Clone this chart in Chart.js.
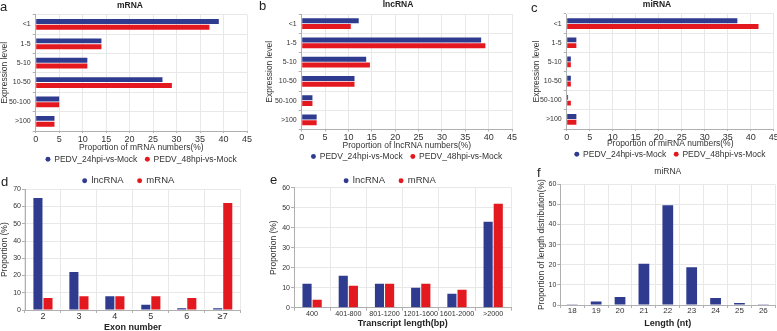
<!DOCTYPE html>
<html><head><meta charset="utf-8">
<script src="https://cdn.jsdelivr.net/npm/chart.js@4.4.0/dist/chart.umd.min.js"></script>
<style>
html,body{margin:0;padding:0;background:#fff;overflow:hidden;width:777px;height:331px;position:relative;}
canvas{position:absolute;}
.lab{position:absolute;font-family:"Liberation Sans",Arial,sans-serif;font-size:13px;color:#222;line-height:13px;}
</style></head><body>
<canvas id="ca" width="260" height="165" style="left:0px;top:0px;width:260px;height:165px"></canvas>
<canvas id="cb" width="266" height="165" style="left:265px;top:0px;width:266px;height:165px"></canvas>
<canvas id="cc" width="252" height="165" style="left:531px;top:0px;width:252px;height:165px"></canvas>
<canvas id="cd" width="258" height="171" style="left:0px;top:160px;width:258px;height:171px"></canvas>
<canvas id="ce" width="244" height="171" style="left:268px;top:160px;width:244px;height:171px"></canvas>
<canvas id="cf" width="240" height="171" style="left:537px;top:160px;width:240px;height:171px"></canvas>
<div class="lab" style="left:0px;top:0px">a</div>
<div class="lab" style="left:259px;top:-1px">b</div>
<div class="lab" style="left:531px;top:1px">c</div>
<div class="lab" style="left:1px;top:175px">d</div>
<div class="lab" style="left:270px;top:173px">e</div>
<div class="lab" style="left:537px;top:166px">f</div>
<script>
// ---- data ----
const levelCats = ['<1', '1-5', '5-10', '10-50', '50-100', '>100'];
const series24 = 'PEDV_24hpi-vs-Mock';
const series48 = 'PEDV_48hpi-vs-Mock';
const mrna24 = [39, 14, 11, 27, 5, 4];
const mrna48 = [37, 14, 11, 29, 5, 4];
const lnc24 = [12.2, 38.4, 13.8, 11.3, 2.3, 3.2];
const lnc48 = [10.5, 39.3, 14.6, 11.3, 2.3, 3.2];
const mir24 = [37.1, 2.1, 0.9, 0.9, 0.3, 2.1];
const mir48 = [41.7, 2.1, 0.9, 0.9, 0.9, 2.1];
const exonCats = ['2', '3', '4', '5', '6', '\u22657'];
const exonLnc = [65, 22, 8, 3, 1, 1];
const exonMrna = [7, 8, 8, 8, 7, 62];
const lenCats = ['400', '401-800', '801-1200', '1201-1600', '1601-2000', '>2000'];
const lenLnc = [12, 16, 12, 10, 7, 43];
const lenMrna = [4, 11, 12, 12, 9, 52];
const ntCats = ['18', '19', '20', '21', '22', '23', '24', '25', '26'];
const ntProp = [0.4, 1.7, 4, 20.5, 49.6, 18.8, 3.5, 1, 0.1];

// ---- style ----
const FONT = '"Liberation Sans", Arial, sans-serif';
Chart.defaults.font.family = FONT;
Chart.defaults.color = '#333';
const BLUE = '#2e3b8e', RED = '#e3191f';
const GRID = '#e8e8e8', AXIS = '#b0b0b0';
const fixW = w => s => { s.width = w; };
const fixH = h => s => { s.height = h; };
// invisible right-hand spacer scale (keeps the plot narrower than the title/legend box)
const spacer = w => ({ type: 'linear', position: 'right', display: true,
  grid: { display: false, drawTicks: false }, ticks: { display: false }, border: { display: false }, afterFit: fixW(w) });

function hbar(id, g, title, xTitle, d24, d48) {
  new Chart(document.getElementById(id), {
    type: 'bar',
    data: {
      labels: levelCats,
      datasets: [
        { label: series24, data: d24, backgroundColor: BLUE, categoryPercentage: 0.6, barPercentage: 0.85 },
        { label: series48, data: d48, backgroundColor: RED, categoryPercentage: 0.6, barPercentage: 0.85 }
      ]
    },
    options: {
      indexAxis: 'y', responsive: false, animation: false, devicePixelRatio: 1,
      layout: { padding: { left: g.pl, right: g.pr, top: 0, bottom: 0 } },
      plugins: {
        title: { display: true, text: title, color: '#222', font: { size: 8.5, weight: 'bold' }, padding: { top: g.tt, bottom: g.tb } },
        legend: { position: 'bottom', fullSize: false, maxHeight: g.lh,
          labels: { usePointStyle: true, pointStyle: 'circle', boxWidth: 4, boxHeight: 3.5, padding: 8, font: { size: 8.5 }, color: '#333' } },
        tooltip: { enabled: false }
      },
      scales: {
        x: { min: 0, max: 45, ticks: { stepSize: 5, font: { size: 9 }, padding: 1, color: '#333' },
             grid: { color: GRID, tickLength: 2, tickColor: AXIS }, border: { color: AXIS },
             title: { display: true, text: xTitle, font: { size: 8.5 }, color: '#333', padding: { top: 0, bottom: g.xtb } },
             afterFit: fixH(g.xh) },
        y: { ticks: { font: { size: 7 }, padding: 2, color: '#333' },
             grid: { color: GRID, tickLength: 3, tickColor: AXIS, offset: true }, border: { color: AXIS },
             title: { display: true, text: 'Expression level', font: { size: 8.5 }, color: '#333', padding: 0 },
             afterFit: fixW(g.yw) },
        yr: spacer(g.dw)
      }
    }
  });
}

function vbar(id, g, cats, sets, yMax, xTitle, yTitle, catFont, title) {
  const scales = {
    x: { ticks: { font: { size: catFont }, padding: g.tp, color: '#333', maxRotation: 0, minRotation: 0, autoSkip: false },
         grid: { color: GRID, tickLength: 3, tickColor: AXIS, offset: true }, border: { color: AXIS },
         title: { display: true, text: xTitle, font: { size: 9, weight: 'bold' }, color: '#222', padding: { top: 0, bottom: g.xtb } },
         afterFit: fixH(g.xh) },
    y: { min: 0, max: yMax, ticks: { stepSize: 10, font: { size: 7 }, padding: 1, color: '#333' },
         grid: { color: GRID, tickLength: 3, tickColor: AXIS }, border: { color: AXIS },
         title: { display: true, text: yTitle, font: { size: 8.5 }, color: '#333', padding: 0 },
         afterFit: fixW(g.yw) }
  };
  if (g.dw) scales.yr = spacer(g.dw);
  new Chart(document.getElementById(id), {
    type: 'bar',
    data: { labels: cats, datasets: sets },
    options: {
      responsive: false, animation: false, devicePixelRatio: 1,
      layout: { padding: { left: g.pl, right: g.pr, top: g.pt, bottom: 0 } },
      plugins: {
        title: title ? { display: true, text: title, fullSize: false, color: '#333', font: { size: 8.5, weight: 'normal' }, padding: { top: g.tt, bottom: g.tb } } : { display: false },
        legend: sets.length > 1 ? { position: 'top', maxHeight: g.lh,
          labels: { usePointStyle: true, pointStyle: 'circle', boxWidth: 4, boxHeight: 3.5, padding: 14, font: { size: 9.5 }, color: '#333' } } : { display: false },
        tooltip: { enabled: false }
      },
      scales: scales
    }
  });
}

hbar('ca', { pl: 0, pr: 0, tt: 1, tb: 3.5, yw: 35.7, dw: 13, xh: 16, xtb: -6.1, lh: 18 },
  'mRNA', 'Proportion of mRNA numbers(%)', mrna24, mrna48);
hbar('cb', { pl: 0, pr: 0, tt: 0, tb: 3.8, yw: 36.7, dw: 19, xh: 14.8, xtb: -6.5, lh: 20.7 },
  'lncRNA', 'Proportion of lncRNA numbers(%)', lnc24, lnc48);
hbar('cc', { pl: 0.4, pr: 0.4, tt: 0, tb: 3.8, yw: 35.3, dw: 8.9, xh: 13, xtb: -6.4, lh: 23 },
  'miRNA', 'Proportion of miRNA numbers(%)', mir24, mir48);

const pairOpts = { categoryPercentage: 0.56, barPercentage: 0.9 };
vbar('cd', { pl: 0, pr: 1, pt: 2, lh: 27.3, yw: 25, dw: 16.3, xh: 21, xtb: -2.1, tp: -2 }, exonCats,
  [ Object.assign({ label: 'lncRNA', data: exonLnc, backgroundColor: BLUE }, pairOpts),
    Object.assign({ label: 'mRNA', data: exonMrna, backgroundColor: RED }, pairOpts) ],
  70, 'Exon number', 'Proportion (%)', 9);
vbar('ce', { pl: 0.6, pr: 0.7, pt: 2, lh: 25.7, yw: 25.4, xh: 23.3, xtb: 1.6, tp: -0.7 }, lenCats,
  [ Object.assign({ label: 'lncRNA', data: lenLnc, backgroundColor: BLUE }, pairOpts),
    Object.assign({ label: 'mRNA', data: lenMrna, backgroundColor: RED }, pairOpts) ],
  60, 'Transcript length(bp)', 'Proportion (%)', 7.2);
vbar('cf', { pl: 0, pr: 1.7, pt: 0, tt: 6.6, tb: 7.5, yw: 23.3, xh: 26, xtb: 1.6, tp: -1.7 }, ntCats,
  [ { label: 'miRNA', data: ntProp, backgroundColor: BLUE, categoryPercentage: 1, barPercentage: 0.45 } ],
  60, 'Length (nt)', 'Proportion of length distribution(%)', 8, 'miRNA');
</script>
</body></html>
